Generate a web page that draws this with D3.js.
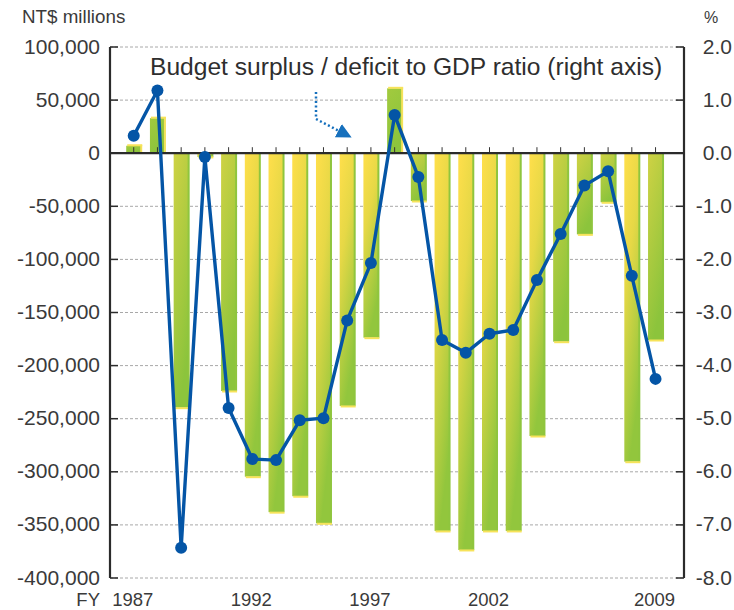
<!DOCTYPE html>
<html>
<head>
<meta charset="utf-8">
<script src="https://cdn.jsdelivr.net/npm/d3@7"></script>
<style>
  body { margin: 0; background: #fff; }
  svg { display: block; font-family: "Liberation Sans", Arial, sans-serif; }
</style>
</head>
<body>
<div id="app"></div>
<script>
// Fiscal years
const years = d3.range(1987, 2010);

// Budget surplus / deficit, NT$ millions (left axis)
const surplus = [
  7000, 33000, -239600, -3500, -223900, -304600, -338000, -323000, -348500,
  -238000, -173700, 61100, -45000, -355700, -373600, -355700, -355700,
  -266300, -177500, -76400, -46200, -290500, -175900
];

// Surplus / deficit to GDP ratio, % (right axis)
const ratio = [
  0.33, 1.18, -7.43, -0.07, -4.8, -5.76, -5.78, -5.03, -4.99,
  -3.15, -2.07, 0.72, -0.45, -3.52, -3.76, -3.4, -3.33,
  -2.39, -1.52, -0.61, -0.34, -2.31, -4.25
];

const leftTicks = d3.range(-400000, 100001, 50000);
const rightTicks = d3.range(-8, 2.01, 1);
const yearLabels = [1987, 1992, 1997, 2002, 2009];

// bars whose top shade is greener than the rest
const greenerYears = new Set([1987, 1988, 1989, 1991, 1998, 1999, 2005, 2006, 2007, 2009]);

const width = 734, height = 610;
const plotLeft = 110, plotRight = 684, plotTop = 47, plotBottom = 578;

const svg = d3.select("#app").append("svg")
  .attr("width", width)
  .attr("height", height);

const x = d3.scaleLinear().domain([1986, 2010.2]).range([plotLeft, plotRight]);
const yL = d3.scaleLinear().domain([-400000, 100000]).range([plotBottom, plotTop]);
const yR = d3.scaleLinear().domain([-8, 2]).range([plotBottom, plotTop]);

// gradients
const defs = svg.append("defs");
function grad(id, stops) {
  const g = defs.append("linearGradient")
    .attr("id", id)
    .attr("x1", 0).attr("y1", 0).attr("x2", 0.35).attr("y2", 1);
  stops.forEach(([o, c]) => g.append("stop").attr("offset", o).attr("stop-color", c));
}
grad("warm", [[0, "#ffdf4b"], [0.4, "#e6d846"], [1, "#92c63d"]]);
grad("cool", [[0, "#cfd244"], [1, "#8cc43c"]]);
grad("pos", [[0, "#a2ca3e"], [1, "#8cc43c"]]);

defs.append("marker")
  .attr("id", "arrow")
  .attr("viewBox", "0 0 10 10")
  .attr("refX", 2).attr("refY", 5)
  .attr("markerWidth", 6).attr("markerHeight", 6)
  .attr("orient", "auto")
  .attr("markerUnits", "strokeWidth")
  .append("path")
  .attr("d", "M0,0L10,5L0,10Z")
  .attr("fill", "#1670bd");

// gridlines
svg.append("g")
  .selectAll("line")
  .data(leftTicks.filter((d) => d !== 0))
  .join("line")
  .attr("x1", plotLeft).attr("x2", plotRight)
  .attr("y1", (d) => yL(d)).attr("y2", (d) => yL(d))
  .attr("stroke", "#a8a8a8")
  .attr("stroke-width", 1)
  .attr("stroke-dasharray", "3,2");

// bars
const bw = 15;
const bars = svg.append("g")
  .selectAll("g")
  .data(years.map((yr, i) => ({ yr, v: surplus[i] })))
  .join("g");

bars.append("rect")
  .attr("x", (d) => x(d.yr) - bw / 2)
  .attr("y", (d) => Math.min(yL(d.v), yL(0)))
  .attr("width", bw)
  .attr("height", (d) => Math.abs(yL(d.v) - yL(0)))
  .attr("fill", (d) => d.v > 0 ? "url(#pos)" : greenerYears.has(d.yr) ? "url(#cool)" : "url(#warm)");

// side edge
bars.append("rect")
  .attr("x", (d) => x(d.yr) + bw / 2 - 1)
  .attr("y", (d) => Math.min(yL(d.v), yL(0)) + (d.v > 0 ? -1 : 0))
  .attr("width", 2)
  .attr("height", (d) => Math.abs(yL(d.v) - yL(0)))
  .attr("fill", (d) => d.v > 0 ? "#f4e25a" : "#8fc53e");

// end edge
bars.append("rect")
  .attr("x", (d) => x(d.yr) - bw / 2 + 1)
  .attr("y", (d) => d.v > 0 ? yL(d.v) - 1.5 : yL(d.v) - 0.5)
  .attr("width", bw)
  .attr("height", 2)
  .attr("fill", "#f7e35a");

// zero line and year ticks
svg.append("g")
  .selectAll("line")
  .data(years)
  .join("line")
  .attr("x1", (d) => x(d)).attr("x2", (d) => x(d))
  .attr("y1", yL(0) - 6).attr("y2", yL(0))
  .attr("stroke", "#333")
  .attr("stroke-width", 1);

svg.append("line")
  .attr("x1", plotLeft).attr("x2", plotRight)
  .attr("y1", yL(0)).attr("y2", yL(0))
  .attr("stroke", "#2b2b2b")
  .attr("stroke-width", 2.2);

// left axis
svg.append("line")
  .attr("x1", plotLeft).attr("x2", plotLeft)
  .attr("y1", plotTop).attr("y2", plotBottom)
  .attr("stroke", "#2b2b2b").attr("stroke-width", 2.2);
svg.append("g")
  .selectAll("line")
  .data(leftTicks)
  .join("line")
  .attr("x1", plotLeft).attr("x2", plotLeft + 8)
  .attr("y1", (d) => yL(d)).attr("y2", (d) => yL(d))
  .attr("stroke", "#2b2b2b").attr("stroke-width", 1.5);
svg.append("g")
  .selectAll("text")
  .data(leftTicks)
  .join("text")
  .attr("x", 100)
  .attr("y", (d) => yL(d) + 6.5)
  .attr("text-anchor", "end")
  .attr("font-size", 21)
  .attr("fill", "#3a3a3a")
  .text((d) => d3.format(",")(d).replace("−", "-"));

// right axis
svg.append("line")
  .attr("x1", plotRight).attr("x2", plotRight)
  .attr("y1", plotTop).attr("y2", plotBottom)
  .attr("stroke", "#2b2b2b").attr("stroke-width", 2.2);
svg.append("g")
  .selectAll("line")
  .data(rightTicks)
  .join("line")
  .attr("x1", plotRight - 8).attr("x2", plotRight)
  .attr("y1", (d) => yR(d)).attr("y2", (d) => yR(d))
  .attr("stroke", "#2b2b2b").attr("stroke-width", 1.5);
svg.append("g")
  .selectAll("text")
  .data(rightTicks)
  .join("text")
  .attr("x", 732)
  .attr("y", (d) => yR(d) + 6.5)
  .attr("text-anchor", "end")
  .attr("font-size", 21)
  .attr("fill", "#3a3a3a")
  .text((d) => d3.format(".1f")(d).replace("−", "-"));

// x labels
svg.append("g")
  .selectAll("text")
  .data(yearLabels)
  .join("text")
  .attr("x", (d) => x(d) - 1)
  .attr("y", 605.8)
  .attr("text-anchor", "middle")
  .attr("font-size", 18.5)
  .attr("fill", "#3a3a3a")
  .text((d) => d);
svg.append("text")
  .attr("x", 100).attr("y", 605.8)
  .attr("text-anchor", "end")
  .attr("font-size", 18.5)
  .attr("fill", "#3a3a3a")
  .text("FY");

// unit labels
svg.append("text")
  .attr("x", 22).attr("y", 23)
  .attr("font-size", 18.8)
  .attr("fill", "#3a3a3a")
  .text("NT$ millions");
svg.append("text")
  .attr("x", 704).attr("y", 23)
  .attr("font-size", 16)
  .attr("fill", "#3a3a3a")
  .text("%");

// annotation
svg.append("text")
  .attr("x", 150).attr("y", 75)
  .attr("font-size", 24.6)
  .attr("fill", "#2e2e2e")
  .text("Budget surplus / deficit to GDP ratio (right axis)");

svg.append("path")
  .attr("d", "M316,92L316,119L341,132")
  .attr("fill", "none")
  .attr("stroke", "#1670bd")
  .attr("stroke-width", 2.5)
  .attr("stroke-dasharray", "2,2.5")
  .attr("marker-end", "url(#arrow)");

// ratio line
const line = d3.line()
  .x((d, i) => x(years[i]))
  .y((d) => yR(d));

svg.append("path")
  .datum(ratio)
  .attr("d", line)
  .attr("fill", "none")
  .attr("stroke", "#0455a6")
  .attr("stroke-width", 3.4)
  .attr("stroke-linejoin", "round");

svg.append("g")
  .selectAll("circle")
  .data(ratio)
  .join("circle")
  .attr("cx", (d, i) => x(years[i]))
  .attr("cy", (d) => yR(d))
  .attr("r", 6)
  .attr("fill", "#0455a6");
</script>
</body>
</html>
